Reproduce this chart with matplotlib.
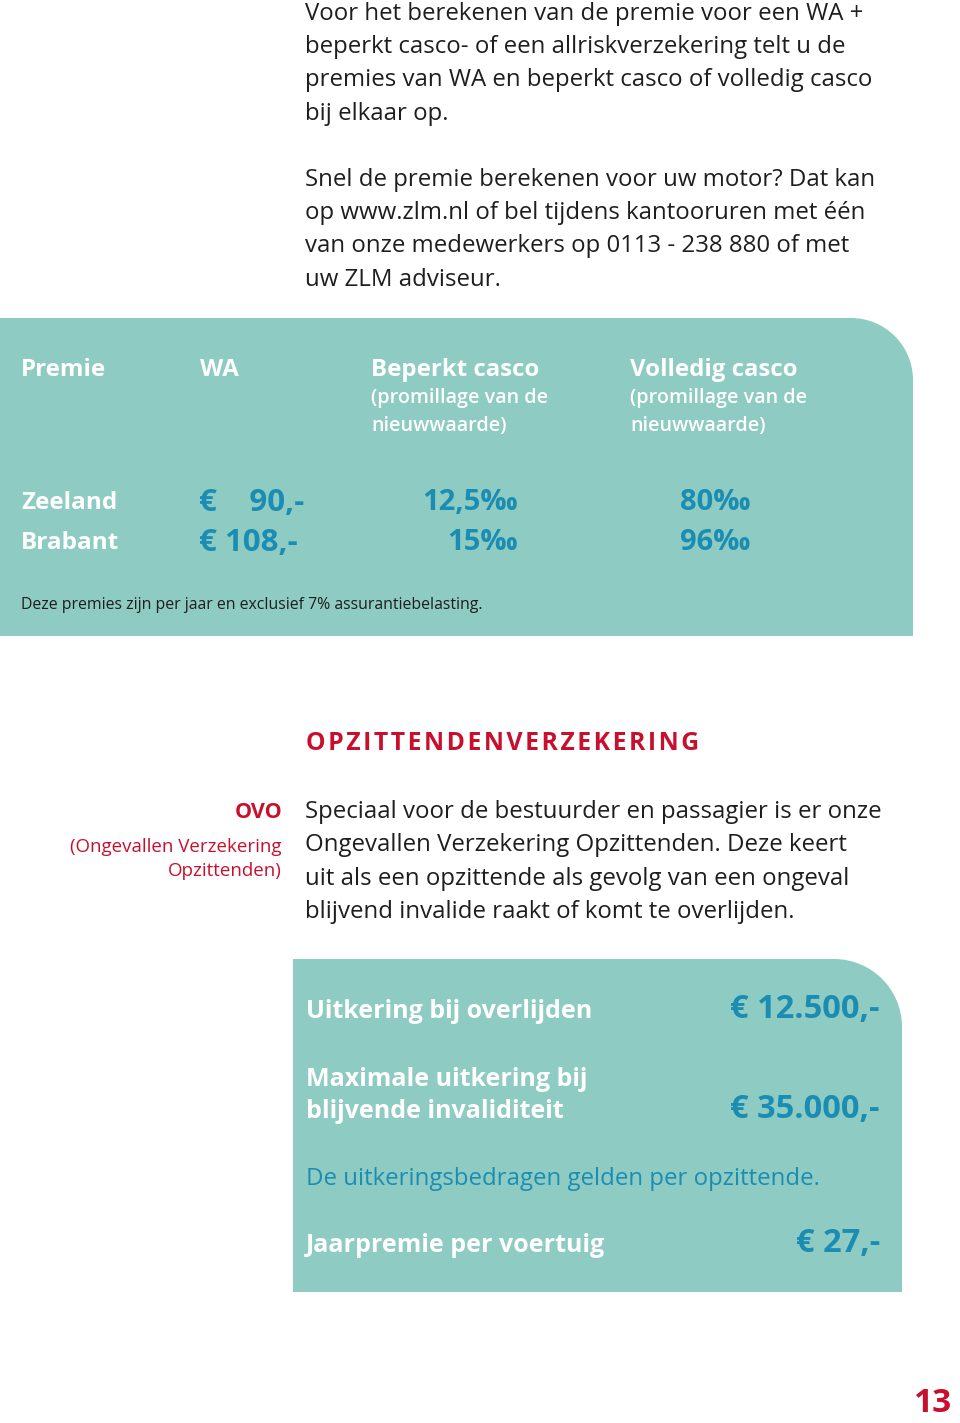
import matplotlib
matplotlib.use("Agg")
import matplotlib.pyplot as plt
from matplotlib.path import Path
from matplotlib.patches import PathPatch

plt.rcParams['font.family'] = ['Open Sans', 'DejaVu Sans']

TEAL = '#8ecbc2'
BLUE = '#1b8db3'
RED = '#c8102e'
DARK = '#1e1e1e'

# --- content ---
intro_lines = [
    "Voor het berekenen van de premie voor een WA +",
    "beperkt casco- of een allriskverzekering telt u de",
    "premies van WA en beperkt casco of volledig casco",
    "bij elkaar op.",
    "",
    "Snel de premie berekenen voor uw motor? Dat kan",
    "op www.zlm.nl of bel tijdens kantooruren met één",
    "van onze medewerkers op 0113 - 238 880 of met",
    "uw ZLM adviseur.",
]

headers = ["Premie", "WA", "Beperkt casco", "Volledig casco"]
header_sub = ["(promillage van de", "nieuwwaarde)"]
regions = ["Zeeland", "Brabant"]
wa_premie = ["€    90,-", "€ 108,-"]
beperkt_casco = ["12,5‰", "15‰"]
volledig_casco = ["80‰", "96‰"]
footnote = "Deze premies zijn per jaar en exclusief 7% assurantiebelasting."

heading = "OPZITTENDENVERZEKERING"
side_title = "OVO"
side_sub = ["(Ongevallen Verzekering", "Opzittenden)"]
ovo_lines = [
    "Speciaal voor de bestuurder en passagier is er onze",
    "Ongevallen Verzekering Opzittenden. Deze keert",
    "uit als een opzittende als gevolg van een ongeval",
    "blijvend invalide raakt of komt te overlijden.",
]
ovo_labels = [["Uitkering bij overlijden"],
              ["Maximale uitkering bij", "blijvende invaliditeit"],
              ["Jaarpremie per voertuig"]]
ovo_amounts = ["€ 12.500,-", "€ 35.000,-", "€ 27,-"]
ovo_note = "De uitkeringsbedragen gelden per opzittende."
page_number = "13"


def rounded_box(ax, x0, y0, x1, y1, r):
    # rectangle with only the top-right corner rounded (y grows downward)
    k = 0.5523 * r
    verts = [(x0, y0), (x1 - r, y0),
             (x1 - r + k, y0), (x1, y0 + r - k), (x1, y0 + r),
             (x1, y1), (x0, y1), (x0, y0)]
    codes = [Path.MOVETO, Path.LINETO,
             Path.CURVE4, Path.CURVE4, Path.CURVE4,
             Path.LINETO, Path.LINETO, Path.CLOSEPOLY]
    ax.add_patch(PathPatch(Path(verts, codes), facecolor=TEAL, edgecolor='none'))


fig = plt.figure(figsize=(9.6, 14.23), dpi=100)
ax = fig.add_axes([0, 0, 1, 1])
ax.set_xlim(0, 960)
ax.set_ylim(1423, 0)
ax.axis('off')

# intro paragraph
for i, line in enumerate(intro_lines):
    ax.text(305, 14 + i * 33.2, line, fontsize=17.3, color=DARK, va='center')

# premium table
rounded_box(ax, 0, 318, 913, 636, 62)
head_x = [21, 200, 371, 630]
for x, h in zip(head_x, headers):
    ax.text(x, 370, h, fontsize=17.3, color='white', fontweight='bold', va='center')
for x in head_x[2:]:
    for j, s in enumerate(header_sub):
        ax.text(x, 398 + j * 28, s, fontsize=14.2, color='white',
                fontweight='semibold', va='center')
for i in range(len(regions)):
    y = 503 + i * 40
    ax.text(21, y, regions[i], fontsize=17.5, color='white', fontweight='bold', va='center')
    ax.text(199, y, wa_premie[i], fontsize=22.5, color=BLUE, fontweight='bold', va='center')
    ax.text(518, y, beperkt_casco[i], fontsize=21, color=BLUE, fontweight='bold',
            va='center', ha='right')
    ax.text(680, y, volledig_casco[i], fontsize=21, color=BLUE, fontweight='bold',
            va='center')
ax.text(21, 605, footnote, fontsize=11.4, color=DARK, va='center')

# heading with letter spacing
ax.text(306, 744, '\u200a'.join(heading), fontsize=17.8, color=RED,
        fontweight='bold', va='center')

# OVO side label
ax.text(282, 812, side_title, fontsize=15.5, color=RED, fontweight='bold',
        va='center', ha='right')
for j, s in enumerate(side_sub):
    ax.text(282, 847 + j * 24.5, s, fontsize=13.5, color=RED, va='center', ha='right')
for i, line in enumerate(ovo_lines):
    ax.text(305, 812 + i * 33.3, line, fontsize=17.3, color=DARK, va='center')

# OVO box
rounded_box(ax, 293, 959, 902, 1292, 68)
label_y = [[1012], [1079, 1112], [1246]]
amount_y = [1010, 1110, 1244]
for labels, ys, amt, ya in zip(ovo_labels, label_y, ovo_amounts, amount_y):
    for s, y in zip(labels, ys):
        ax.text(306, y, s, fontsize=18, color='white', fontweight='bold', va='center')
    ax.text(880, ya, amt, fontsize=23.5, color=BLUE, fontweight='bold',
            va='center', ha='right')
ax.text(306, 1179, ovo_note, fontsize=17.3, color=BLUE, va='center')

ax.text(952, 1403, page_number, fontsize=24, color=RED, fontweight='bold',
        va='center', ha='right')

fig.savefig('out.png', dpi=100)
